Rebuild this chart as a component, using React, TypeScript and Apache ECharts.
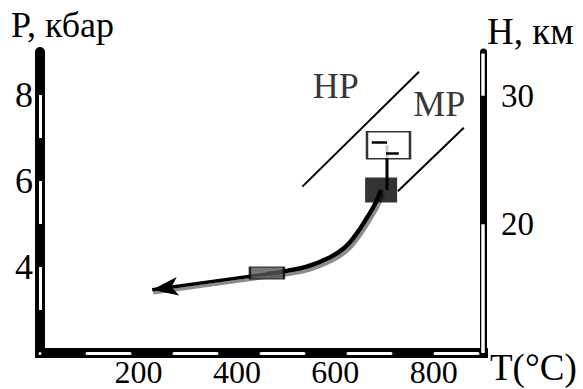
import React, { useEffect, useRef } from "react";
import * as echarts from "echarts";

const FONT = "Liberation Serif";

// axis ticks
const tempTicks = [200, 400, 600, 800];
const pressureTicks = [4, 6, 8];
const depthTicks = [20, 30];
const tempRange = [0, 900];
const pressureRange = [2, 9];
const depthRange = [10, 33.4];

// white stripes of the pressure scale bar (kbar)
const pStripes = [
  [8, 7],
  [6, 5],
  [4, 3],
];
// black band on the depth scale bar (km)
const depthBand = [20, 30];

// P–T path (T °C, P kbar)
const pathCurve = [
  [461, 3.84],
  [502, 3.91],
  [542, 4.01],
  [583, 4.19],
  [618, 4.44],
  [644, 4.79],
  [664, 5.14],
  [681, 5.47],
  [693, 5.79],
];
const pathTail = [
  [461, 3.84],
  [228, 3.47],
];

// boxes on the path
const peakBox = [693, 5.79];
const retroBox = [461, 3.86];
const inclusionBox = [708, 6.83];
const connector = [
  [705, 6.83],
  [705, 5.79],
];
const inclusionMarks = [
  [
    [674, 6.91],
    [705, 6.91],
  ],
  [
    [703, 6.65],
    [729, 6.65],
  ],
];

// facies boundaries
const hpLine = [
  [533, 5.87],
  [770, 8.54],
];
const mpLine = [
  [727, 5.76],
  [861, 7.24],
];
const faciesLabels = [
  { name: "HP", value: [601, 8.21] },
  { name: "MP", value: [811, 7.8] },
];

const serifLabel = (size: number) => ({
  fontSize: size,
  fontFamily: FONT,
  fontWeight: "normal",
  color: "#000",
});

export default function App() {
  const ref = useRef<HTMLDivElement>(null);

  useEffect(() => {
    if (!ref.current) return;
    const chart = echarts.init(ref.current, null, { renderer: "svg" });

    const option: any = {
      animation: false,
      backgroundColor: "#fff",
      textStyle: { fontFamily: FONT, color: "#000" },
      grid: { left: 40, right: 100, top: 52, bottom: 36, containLabel: false },
      xAxis: [
        {
          type: "value",
          min: tempRange[0],
          max: tempRange[1],
          interval: 200,
          position: "bottom",
          axisLine: {
            show: true,
            onZero: false,
            lineStyle: { color: "#000", width: 10, cap: "square" },
          },
          axisTick: { show: false },
          splitLine: { show: false },
          axisLabel: {
            ...serifLabel(32),
            margin: 3,
            formatter: (v: number) => (tempTicks.includes(v) ? String(v) : ""),
          },
        },
        {
          type: "value",
          min: tempRange[0],
          max: tempRange[1],
          position: "bottom",
          axisLine: {
            show: true,
            onZero: false,
            lineStyle: {
              color: "#fff",
              width: 3,
              type: [0, 47, 43, 44, 43, 44, 43, 44, 43, 44, 43, 60],
            },
          },
          axisTick: { show: false },
          splitLine: { show: false },
          axisLabel: { show: false },
        },
      ],
      yAxis: [
        {
          type: "value",
          min: pressureRange[0],
          max: pressureRange[1],
          interval: 1,
          position: "left",
          axisLine: {
            show: true,
            onZero: false,
            lineStyle: { color: "#000", width: 10 },
          },
          axisTick: { show: false },
          splitLine: { show: false },
          axisLabel: {
            ...serifLabel(36),
            margin: 7,
            formatter: (v: number) => (pressureTicks.includes(v) ? String(v) : ""),
          },
        },
        {
          type: "value",
          min: depthRange[0],
          max: depthRange[1],
          interval: 10,
          position: "right",
          axisLine: {
            show: true,
            onZero: false,
            lineStyle: { color: "#000", width: 7 },
          },
          axisTick: { show: false },
          splitLine: { show: false },
          axisLabel: {
            ...serifLabel(33),
            margin: 18,
            formatter: (v: number) => (depthTicks.includes(v) ? String(v) : ""),
          },
        },
      ],
      graphic: [
        {
          type: "text",
          left: 11,
          top: 7,
          style: { text: "P, кбар", font: `36px ${FONT}`, fill: "#000" },
        },
        {
          type: "text",
          left: 487,
          top: 13,
          style: { text: "H, км", font: `37px ${FONT}`, fill: "#000" },
        },
        {
          type: "text",
          left: 490,
          top: 349,
          style: { text: "T(°C)", font: `37px ${FONT}`, fill: "#000" },
        },
      ],
      series: [
        {
          type: "lines",
          coordinateSystem: "cartesian2d",
          xAxisIndex: 0,
          yAxisIndex: 0,
          clip: false,
          silent: true,
          z: 3,
          symbol: "none",
          lineStyle: { color: "#fff", width: 3, opacity: 1 },
          data: pStripes.map(([a, b]) => ({
            coords: [
              [tempRange[0], a],
              [tempRange[0], b],
            ],
          })),
        },
        {
          type: "lines",
          coordinateSystem: "cartesian2d",
          xAxisIndex: 0,
          yAxisIndex: 1,
          clip: false,
          silent: true,
          z: 3,
          symbol: "none",
          lineStyle: { color: "#fff", width: 3.5, opacity: 1 },
          data: [
            {
              coords: [
                [tempRange[1], depthRange[0]],
                [tempRange[1], depthRange[1] - 0.12],
              ],
            },
          ],
        },
        {
          type: "lines",
          coordinateSystem: "cartesian2d",
          xAxisIndex: 0,
          yAxisIndex: 1,
          clip: false,
          silent: true,
          z: 4,
          symbol: "none",
          lineStyle: { color: "#000", width: 7, opacity: 1 },
          data: [
            {
              coords: [
                [tempRange[1], depthBand[0]],
                [tempRange[1], depthBand[1]],
              ],
            },
          ],
        },
        {
          type: "lines",
          coordinateSystem: "cartesian2d",
          xAxisIndex: 0,
          yAxisIndex: 0,
          silent: true,
          z: 3,
          symbol: "none",
          lineStyle: { color: "#000", width: 2, opacity: 1 },
          data: [{ coords: hpLine }, { coords: mpLine }],
        },
        {
          type: "line",
          xAxisIndex: 0,
          yAxisIndex: 0,
          silent: true,
          z: 3,
          symbol: "none",
          lineStyle: { color: "#000", width: 3 },
          data: connector,
        },
        {
          type: "line",
          xAxisIndex: 0,
          yAxisIndex: 0,
          silent: true,
          z: 4,
          symbol: "none",
          smooth: 0.5,
          lineStyle: {
            color: "#000",
            width: 4.5,
            shadowColor: "rgba(120,120,120,0.85)",
            shadowOffsetX: 2,
            shadowOffsetY: 3,
            shadowBlur: 0,
          },
          data: pathCurve,
        },
        {
          type: "lines",
          coordinateSystem: "cartesian2d",
          xAxisIndex: 0,
          yAxisIndex: 0,
          silent: true,
          z: 4,
          symbol: ["none", "arrow"],
          symbolSize: [8, [14, 26]],
          lineStyle: {
            color: "#000",
            width: 3.5,
            opacity: 1,
            shadowColor: "rgba(120,120,120,0.85)",
            shadowOffsetX: 1,
            shadowOffsetY: 3,
            shadowBlur: 0,
          },
          data: [{ coords: pathTail }],
        },
        {
          type: "scatter",
          xAxisIndex: 0,
          yAxisIndex: 0,
          silent: true,
          z: 5,
          symbol: "rect",
          data: [
            { value: peakBox, symbolSize: [32, 25], itemStyle: { color: "#000" } },
            {
              value: retroBox,
              symbolSize: [34, 12],
              itemStyle: { color: "#555", borderColor: "#000", borderWidth: 1.5 },
            },
            {
              value: inclusionBox,
              symbolSize: [43, 27],
              itemStyle: { color: "#fff", borderColor: "#000", borderWidth: 2 },
            },
          ],
        },
        {
          type: "lines",
          coordinateSystem: "cartesian2d",
          xAxisIndex: 0,
          yAxisIndex: 0,
          silent: true,
          z: 6,
          symbol: "none",
          lineStyle: { color: "#000", width: 2.5, opacity: 1 },
          data: inclusionMarks.map((c) => ({ coords: c })),
        },
        {
          type: "scatter",
          xAxisIndex: 0,
          yAxisIndex: 0,
          silent: true,
          z: 6,
          symbolSize: 1,
          itemStyle: { color: "transparent" },
          label: {
            show: true,
            position: "inside",
            formatter: "{b}",
            ...serifLabel(36),
            textBorderWidth: 0,
          },
          data: faciesLabels,
        },
      ],
    };

    chart.setOption(option);
    return () => chart.dispose();
  }, []);

  return (
    <div
      ref={ref}
      style={{ position: "fixed", left: 0, top: 0, width: 583, height: 389, background: "#fff" }}
    />
  );
}
